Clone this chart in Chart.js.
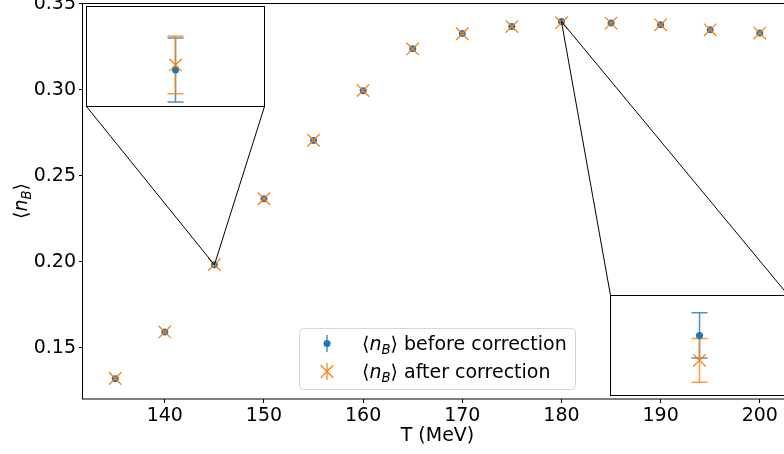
<!DOCTYPE html>
<html>
<head>
<meta charset="utf-8">
<script src="https://cdn.jsdelivr.net/npm/chart.js@4.4.1/dist/chart.umd.min.js"></script>
<style>
  html, body { margin: 0; padding: 0; overflow: hidden; background: #fff; }
  #wrap { position: relative; width: 784px; height: 454px; overflow: hidden; }
  #main { position: absolute; left: 0; top: 0; }
  .inset { position: absolute; }
</style>
</head>
<body>
<div id="wrap">
  <canvas id="main" width="792" height="454"></canvas>
  <canvas id="insetLeft" class="inset" width="179" height="101" style="left:86px;top:6px"></canvas>
  <canvas id="insetRight" class="inset" width="179" height="101" style="left:610px;top:295px"></canvas>
</div>
<script>
// data
const temps = [135, 140, 145, 150, 155, 160, 165, 170, 175, 180, 185, 190, 195, 200];
const nbBefore = [0.1320, 0.1591, 0.1982, 0.2366, 0.2705, 0.2994, 0.3238, 0.3326, 0.3368, 0.3397, 0.3388, 0.3378, 0.3349, 0.3330];
const errBefore = [0.0007, 0.0007, 0.00095, 0.0008, 0.0008, 0.0007, 0.0007, 0.0007, 0.0007, 0.00067, 0.0007, 0.0007, 0.0007, 0.0007];
const nbAfter = [0.1321, 0.1592, 0.19835, 0.2366, 0.2706, 0.2995, 0.3237, 0.3325, 0.3367, 0.33896, 0.3387, 0.3377, 0.3348, 0.3329];
const errAfter = [0.0007, 0.0007, 0.00086, 0.0008, 0.0008, 0.0007, 0.0007, 0.0007, 0.0007, 0.00065, 0.0007, 0.0007, 0.0007, 0.0007];
const xTicks = [140, 150, 160, 170, 180, 190, 200];
const yTicks = [0.15, 0.20, 0.25, 0.30, 0.35];
const legendLabels = ["before correction", "after correction"];
const xTitle = "T (MeV)";

// zoomed views
const insetLeftY = [0.1971, 0.2001];
const insetRightY = [0.3379, 0.3409];

const BLUE = "#1f77b4";
const ORANGE = "#ff7f0e";
const FONT = "DejaVu Sans";

Chart.defaults.font.family = FONT;
Chart.defaults.font.size = 19;
Chart.defaults.color = "#000";

function points(values, errs, idx) {
  return idx.map((i) => ({ x: temps[i], y: values[i], err: errs[i] }));
}

function makeDatasets(idx) {
  return [
    {
      label: legendLabels[0],
      data: points(nbBefore, errBefore, idx),
      pointStyle: "circle",
      pointRadius: 3.5,
      backgroundColor: BLUE,
      borderWidth: 0,
      errColor: BLUE,
      order: 2,
    },
    {
      label: legendLabels[1],
      data: points(nbAfter, errAfter, idx),
      pointStyle: "crossRot",
      pointRadius: 8.8,
      borderColor: ORANGE,
      borderWidth: 1.3,
      errColor: ORANGE,
      order: 1,
    },
  ];
}

// draws <n_B> with italic n and subscript B, returns width
function drawNB(ctx, x, y, size) {
  let w = 0;
  ctx.font = `${size}px "${FONT}"`;
  ctx.fillText("\u27E8", x, y);
  w += ctx.measureText("\u27E8").width;
  ctx.font = `italic ${size}px "${FONT}"`;
  ctx.fillText("n", x + w, y);
  w += ctx.measureText("n").width;
  ctx.font = `italic ${size * 0.7}px "${FONT}"`;
  ctx.fillText("B", x + w, y + size * 0.2);
  w += ctx.measureText("B").width;
  ctx.font = `${size}px "${FONT}"`;
  ctx.fillText("\u27E9", x + w, y);
  w += ctx.measureText("\u27E9").width;
  return w;
}

function measureNB(ctx, size) {
  let w = 0;
  ctx.font = `${size}px "${FONT}"`;
  w += ctx.measureText("\u27E8").width + ctx.measureText("\u27E9").width;
  ctx.font = `italic ${size}px "${FONT}"`;
  w += ctx.measureText("n").width;
  ctx.font = `italic ${size * 0.7}px "${FONT}"`;
  w += ctx.measureText("B").width;
  return w;
}

const errorBars = {
  id: "errorBars",
  beforeDatasetsDraw(chart, args, opts) {
    const ctx = chart.ctx;
    const yScale = chart.scales.y;
    const cap = opts.cap || 0;
    chart.data.datasets.forEach((ds, di) => {
      const meta = chart.getDatasetMeta(di);
      ctx.save();
      ctx.strokeStyle = ds.errColor;
      ctx.globalAlpha = 0.8;
      ctx.lineWidth = 1.5;
      meta.data.forEach((pt, i) => {
        const d = ds.data[i];
        const top = yScale.getPixelForValue(d.y + d.err);
        const bot = yScale.getPixelForValue(d.y - d.err);
        ctx.beginPath();
        ctx.moveTo(pt.x, top);
        ctx.lineTo(pt.x, bot);
        if (cap) {
          ctx.moveTo(pt.x - cap, top);
          ctx.lineTo(pt.x + cap, top);
          ctx.moveTo(pt.x - cap, bot);
          ctx.lineTo(pt.x + cap, bot);
        }
        ctx.stroke();
      });
      ctx.restore();
    });
  },
};

// inset boxes on the main canvas (match the overlay canvases)
const insetBoxes = [
  { idx: 2, l: 86.5, t: 6.5, r: 264.5, b: 106.5, edge: "bottom" },
  { idx: 9, l: 610.5, t: 295.5, r: 788.5, b: 395.5, edge: "top" },
];

const mainDecor = {
  id: "mainDecor",
  afterDatasetsDraw(chart) {
    const ctx = chart.ctx;
    const { left, top, right, bottom } = chart.chartArea;
    const xs = chart.scales.x, ys = chart.scales.y;
    ctx.save();
    // frame
    ctx.strokeStyle = "#000";
    ctx.lineWidth = 1;
    ctx.strokeRect(Math.round(left) - 0.5, Math.round(top) + 0.5, Math.round(right - left) + 1, Math.round(bottom - top) - 0.5);
    // connector lines to the insets
    insetBoxes.forEach((b) => {
      const px = xs.getPixelForValue(temps[b.idx]);
      const py = ys.getPixelForValue(nbBefore[b.idx]);
      const yy = b.edge === "bottom" ? b.b : b.t;
      ctx.beginPath();
      ctx.moveTo(b.l, yy);
      ctx.lineTo(px, py);
      ctx.moveTo(b.r, yy);
      ctx.lineTo(px, py);
      ctx.stroke();
    });
    ctx.restore();
  },
  afterDraw(chart) {
    const ctx = chart.ctx;
    ctx.save();
    // y axis title
    ctx.fillStyle = "#000";
    ctx.textBaseline = "alphabetic";
    ctx.textAlign = "left";
    const { top, bottom } = chart.chartArea;
    const cy = (top + bottom) / 2;
    const w = measureNB(ctx, 19);
    ctx.translate(27, cy + w / 2);
    ctx.rotate(-Math.PI / 2);
    drawNB(ctx, 0, 0, 19);
    ctx.restore();

    // legend
    ctx.save();
    const lx = 299.5, ly = 328.5, lw = 276, lh = 61, r = 4;
    ctx.beginPath();
    ctx.roundRect(lx, ly, lw, lh, r);
    ctx.fillStyle = "rgba(255,255,255,0.8)";
    ctx.fill();
    ctx.strokeStyle = "#d6d6d6";
    ctx.lineWidth = 1;
    ctx.stroke();
    const rows = [343.5, 371.5];
    const mx = 327;
    chart.data.datasets.forEach((ds, i) => {
      const y = rows[i];
      ctx.globalAlpha = 0.8;
      ctx.strokeStyle = ds.errColor;
      ctx.lineWidth = 1.5;
      ctx.beginPath();
      ctx.moveTo(mx, y - 8.5);
      ctx.lineTo(mx, y + 8.5);
      ctx.stroke();
      ctx.globalAlpha = 1;
      if (ds.pointStyle === "circle") {
        ctx.fillStyle = ds.backgroundColor;
        ctx.beginPath();
        ctx.arc(mx, y, ds.pointRadius, 0, Math.PI * 2);
        ctx.fill();
      } else {
        const o = ds.pointRadius * Math.SQRT1_2;
        ctx.strokeStyle = ds.borderColor;
        ctx.lineWidth = ds.borderWidth;
        ctx.beginPath();
        ctx.moveTo(mx - o, y - o);
        ctx.lineTo(mx + o, y + o);
        ctx.moveTo(mx + o, y - o);
        ctx.lineTo(mx - o, y + o);
        ctx.stroke();
      }
      ctx.fillStyle = "#000";
      ctx.textBaseline = "alphabetic";
      const base = y + 6.8;
      const nw = drawNB(ctx, 362, base, 19);
      ctx.font = `19px "${FONT}"`;
      ctx.fillText(" " + ds.label, 362 + nw, base);
    });
    ctx.restore();
  },
};

new Chart(document.getElementById("main"), {
  type: "scatter",
  data: { datasets: makeDatasets(temps.map((_, i) => i)) },
  options: {
    responsive: false,
    animation: false,
    events: [],
    layout: { padding: { top: 3, left: 0, right: 0, bottom: 0 }, autoPadding: false },
    scales: {
      x: {
        min: 131.75,
        max: 203.25,
        afterBuildTicks: (s) => { s.ticks = xTicks.map((v) => ({ value: v })); },
        afterFit: (s) => { s.height = 55; s.paddingLeft = 0; s.paddingRight = 0; },
        grid: { drawOnChartArea: false, drawTicks: true, tickLength: 4, color: "#000" },
        border: { display: false },
        ticks: { padding: 2, maxRotation: 0, callback: (v) => String(v) },
        title: { display: true, text: xTitle, padding: { top: 0, bottom: 7 } },
      },
      y: {
        min: 0.1202,
        max: 0.3504,
        afterBuildTicks: (s) => { s.ticks = yTicks.map((v) => ({ value: v })); },
        afterFit: (s) => { s.width = 83; s.paddingTop = 0; s.paddingBottom = 0; },
        grid: { drawOnChartArea: false, drawTicks: true, tickLength: 4, color: "#000" },
        border: { display: false },
        ticks: { padding: 3, callback: (v) => v.toFixed(2) },
      },
    },
    plugins: { legend: { display: false }, tooltip: { enabled: false }, errorBars: { cap: 0 } },
  },
  plugins: [errorBars, mainDecor],
});

const insetFrame = {
  id: "insetFrame",
  beforeDraw(chart) {
    const ctx = chart.ctx;
    ctx.save();
    ctx.fillStyle = "#fff";
    ctx.fillRect(0, 0, chart.width, chart.height);
    ctx.restore();
  },
  afterDraw(chart) {
    const ctx = chart.ctx;
    ctx.save();
    ctx.strokeStyle = "#000";
    ctx.lineWidth = 1;
    ctx.strokeRect(0.5, 0.5, chart.width - 1, chart.height - 1);
    ctx.restore();
  },
};

function makeInset(id, idx, yRange) {
  return new Chart(document.getElementById(id), {
    type: "scatter",
    data: { datasets: makeDatasets([idx]) },
    options: {
      responsive: false,
      animation: false,
      events: [],
      layout: { padding: 0, autoPadding: false },
      scales: {
        x: { display: false, min: temps[idx] - 0.1, max: temps[idx] + 0.1 },
        y: { display: false, min: yRange[0], max: yRange[1] },
      },
      plugins: { legend: { display: false }, tooltip: { enabled: false }, errorBars: { cap: 8 } },
    },
    plugins: [insetFrame, errorBars],
  });
}

makeInset("insetLeft", 2, insetLeftY);
makeInset("insetRight", 9, insetRightY);
</script>
</body>
</html>
